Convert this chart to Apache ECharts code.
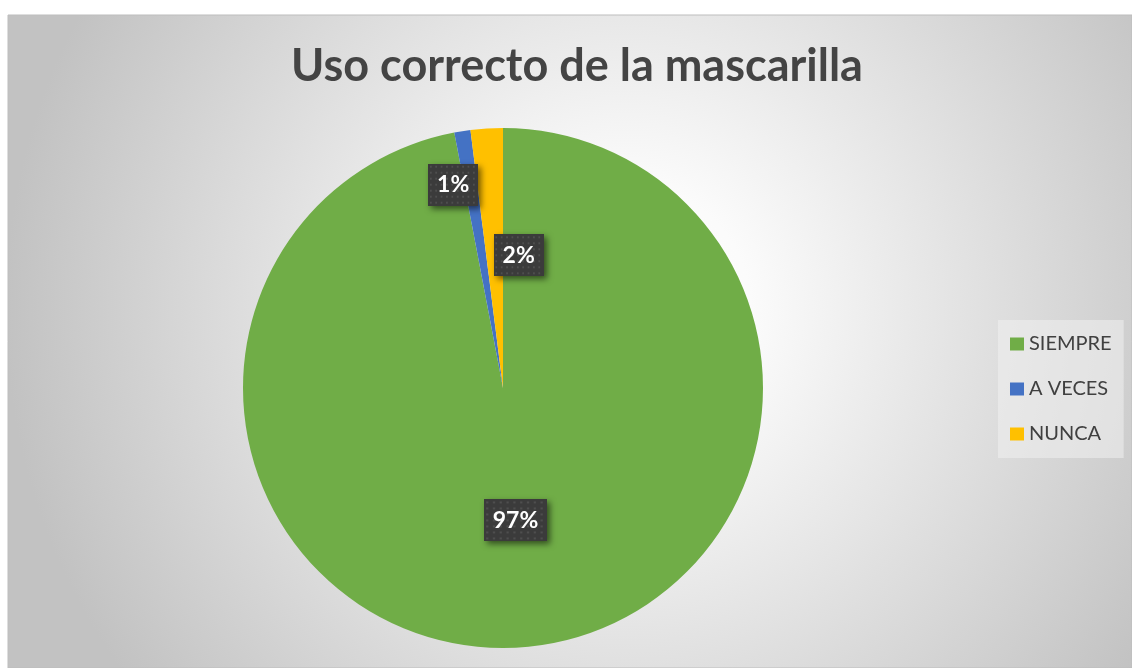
<!DOCTYPE html>
<html>
<head>
<meta charset="utf-8">
<script src="https://cdn.jsdelivr.net/npm/echarts@6/dist/echarts.min.js"></script>
<style>
  html, body { margin: 0; padding: 0; background: #fff; }
  #chart { width: 1132px; height: 668px; }
</style>
</head>
<body>
<div id="chart"></div>
<script>
// datos
const categories = ['SIEMPRE', 'A VECES', 'NUNCA'];
const values = [97, 1, 2];
const colors = ['#70AD47', '#4472C4', '#FFC000'];

// desplazamiento de las etiquetas pequeñas (como en Excel)
const labelShift = [[0, 0], [-29, -72], [24, 0]];

// fondo punteado de las etiquetas
const dots = document.createElement('canvas');
dots.width = 56; dots.height = 42;
const g = dots.getContext('2d');
g.fillStyle = '#3b3b3b';
g.fillRect(0, 0, 56, 42);
g.fillStyle = '#4e4e4e';
for (let y = 2; y < 42; y += 6) {
  for (let x = 2; x < 56; x += 6) g.fillRect(x, y, 2, 2);
}

const chart = echarts.init(document.getElementById('chart'));

const option = {
  animation: false,
  graphic: [{
    type: 'rect',
    z: -10,
    shape: { x: 8, y: 15, width: 1124, height: 653 },
    style: {
      fill: new echarts.graphic.RadialGradient(0.55, 0.45, 0.95, [
        { offset: 0, color: '#ffffff' },
        { offset: 0.2, color: '#fbfbfb' },
        { offset: 1, color: '#c2c2c2' }
      ]),
      stroke: '#bdbdbd',
      lineWidth: 1
    }
  }],
  title: {
    text: 'Uso correcto de la mascarilla',
    left: 572,
    top: 39,
    textAlign: 'center',
    textStyle: {
      fontFamily: 'Lato',
      fontWeight: 'bold',
      fontSize: 45,
      color: '#444444'
    }
  },
  legend: {
    orient: 'vertical',
    left: 998,
    top: 320,
    padding: [14, 12, 14, 12],
    backgroundColor: 'rgba(240,240,240,0.55)',
    itemWidth: 14,
    itemHeight: 13,
    itemGap: 25,
    itemTextGap: 6,
    icon: 'rect',
    data: categories,
    textStyle: {
      fontFamily: 'Lato',
      fontSize: 20,
      lineHeight: 14,
      color: '#404040'
    }
  },
  series: [{
    type: 'pie',
    center: [503, 388],
    radius: 260,
    startAngle: 90,
    clockwise: true,
    color: colors,
    label: {
      position: 'inside',
      formatter: (p) => Math.round(p.percent) + '%',
      fontFamily: 'Lato',
      fontWeight: 'bold',
      fontSize: 23,
      color: '#ffffff',
      backgroundColor: { image: dots },
      padding: [10, 9, 9, 9],
      shadowColor: 'rgba(0,0,0,0.55)',
      shadowBlur: 6,
      shadowOffsetX: 3,
      shadowOffsetY: 3
    },
    labelLine: { show: false },
    labelLayout: (params) => ({
      dx: labelShift[params.dataIndex][0],
      dy: labelShift[params.dataIndex][1]
    }),
    data: categories.map((name, i) => ({ name, value: values[i] }))
  }]
};

chart.setOption(option);
</script>
</body>
</html>
